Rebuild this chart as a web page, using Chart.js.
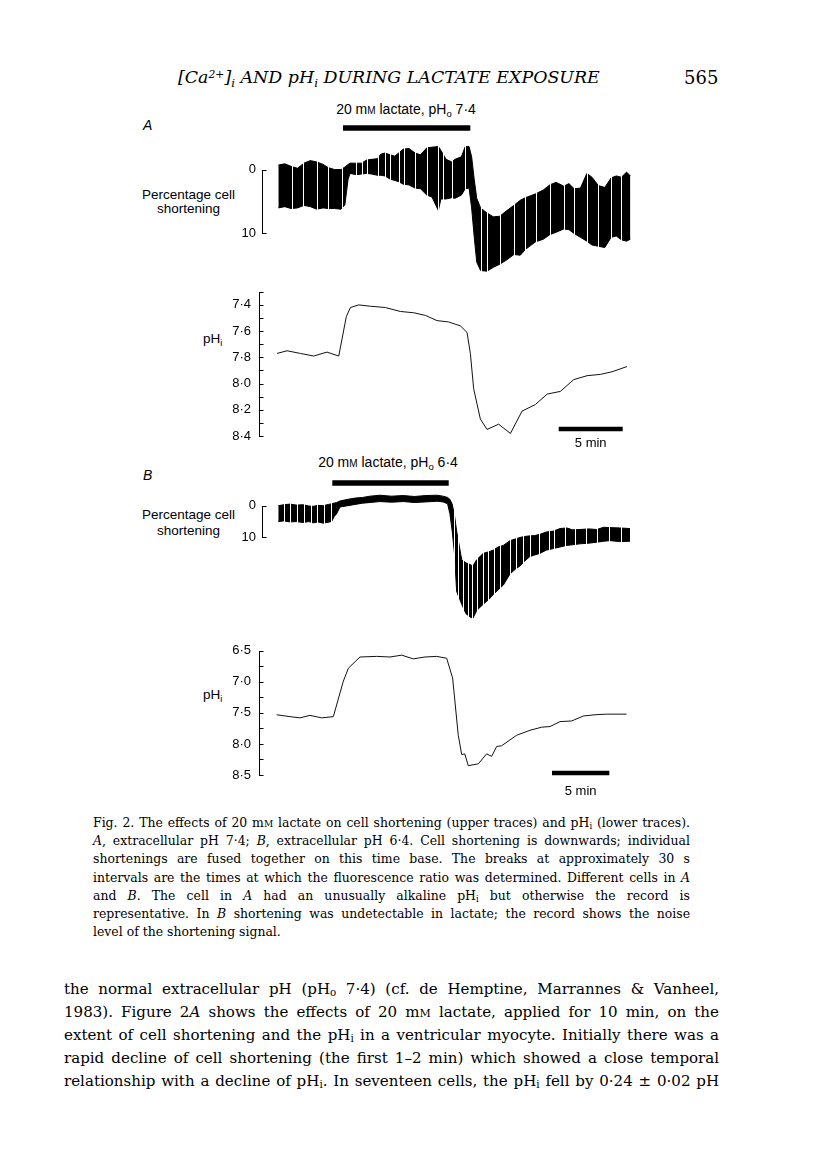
<!DOCTYPE html>
<html>
<head>
<meta charset="utf-8">
<title>Fig. 2 - lactate, cell shortening and pHi</title>
<script src="https://cdn.jsdelivr.net/npm/chart.js@4.4.1/dist/chart.umd.min.js"></script>
<style>
  html, body { margin: 0; padding: 0; background: #fff; }
  #page { position: relative; width: 816px; height: 1169px; overflow: hidden; background: #fff; color: #000; }
  #page canvas { position: absolute; }
  .t { position: absolute; white-space: nowrap; line-height: 1; }
  .sans { font-family: "Liberation Sans", Arial, sans-serif; }
  .serif { font-family: "DejaVu Serif", "Liberation Serif", serif; }
  .sub { font-size: 0.68em; position: relative; top: 0.28em; }
  .sup { font-size: 0.62em; position: relative; top: -0.45em; }
  .sc { font-variant: small-caps; }
</style>
</head>
<body>
<div id="page">
  <div class="t serif" id="head" style="left:178px;top:68px;font-style:italic;font-size:20px">[Ca<span class="sup">2+</span>]<span class="sub">i</span> AND pH<span class="sub">i</span> DURING LACTATE EXPOSURE</div>
  <div class="t serif" style="left:684px;top:69px;font-size:18px">565</div>

  <div class="t sans" style="left:143px;top:118px;font-size:14px;font-style:italic">A</div>
  <div class="t sans" style="left:326px;width:160px;text-align:center;top:102px;font-size:14px">20 m<span class="sc">m</span> lactate, pH<span class="sub">o</span> 7·4</div>
  <div class="t sans" style="left:128px;width:121px;text-align:center;top:188px;font-size:13.5px;line-height:14px">Percentage cell<br>shortening</div>
  <div class="t sans" style="left:203px;top:332px;font-size:13.5px">pH<span class="sub">i</span></div>

  <div class="t sans" style="left:143px;top:468px;font-size:14px;font-style:italic">B</div>
  <div class="t sans" style="left:308px;width:160px;text-align:center;top:455px;font-size:14px">20 m<span class="sc">m</span> lactate, pH<span class="sub">o</span> 6·4</div>
  <div class="t sans" style="left:128px;width:121px;text-align:center;top:507px;font-size:13.5px;line-height:16px">Percentage cell<br>shortening</div>
  <div class="t sans" style="left:203px;top:688px;font-size:13.5px">pH<span class="sub">i</span></div>

  <canvas id="shortA" width="422" height="189" style="left:219px;top:100px"></canvas>
  <canvas id="phA" width="422" height="186" style="left:219px;top:276px"></canvas>
  <canvas id="shortB" width="422" height="186" style="left:219px;top:448px"></canvas>
  <canvas id="phB" width="422" height="166" style="left:219px;top:635px"></canvas>

  <div class="t serif cap" data-w="597" style="left:93px;top:815px">Fig. 2. The effects of 20 m<span class="sc">m</span> lactate on cell shortening (upper traces) and pH<span class="sub">i</span> (lower traces).</div>
  <div class="t serif cap" data-w="597" style="left:93px;top:833px"><i>A</i>, extracellular pH 7·4; <i>B</i>, extracellular pH 6·4. Cell shortening is downwards; individual</div>
  <div class="t serif cap" data-w="597" style="left:93px;top:851px">shortenings are fused together on this time base. The breaks at approximately 30 s</div>
  <div class="t serif cap" data-w="597" style="left:93px;top:870px">intervals are the times at which the fluorescence ratio was determined. Different cells in <i>A</i></div>
  <div class="t serif cap" data-w="597" style="left:93px;top:888px">and <i>B</i>. The cell in <i>A</i> had an unusually alkaline pH<span class="sub">i</span> but otherwise the record is</div>
  <div class="t serif cap" data-w="597" style="left:93px;top:906px">representative. In <i>B</i> shortening was undetectable in lactate; the record shows the noise</div>
  <div class="t serif cap" style="left:93px;top:924px">level of the shortening signal.</div>

  <div class="t serif body" data-w="655" style="left:64px;top:980px">the normal extracellular pH (pH<span class="sub">o</span> 7·4) (cf. de Hemptine, Marrannes &amp; Vanheel,</div>
  <div class="t serif body" data-w="655" style="left:64px;top:1003px">1983). Figure 2<i>A</i> shows the effects of 20 m<span class="sc">m</span> lactate, applied for 10 min, on the</div>
  <div class="t serif body" data-w="655" style="left:64px;top:1026px">extent of cell shortening and the pH<span class="sub">i</span> in a ventricular myocyte. Initially there was a</div>
  <div class="t serif body" data-w="655" style="left:64px;top:1049px">rapid decline of cell shortening (the first 1–2 min) which showed a close temporal</div>
  <div class="t serif body" data-w="655" style="left:64px;top:1072px">relationship with a decline of pH<span class="sub">i</span>. In seventeen cells, the pH<span class="sub">i</span> fell by 0·24 ± 0·02 pH</div>
</div>

<script>
// ---------- panel A (pHo 7.4), time in min ----------
const timeShortA = [0.1, 0.6, 1.1, 1.6, 2.1, 2.6, 3.1, 3.6, 4.0, 4.5, 5.0, 5.3, 5.55, 5.7, 6.2, 6.6, 7.0, 7.4, 7.84, 8.1,
  8.44, 8.83, 9.2, 9.5, 9.87, 10.3, 10.78, 11.2, 11.7, 12.1, 12.6, 12.8, 13.2, 13.65, 13.9, 14.4, 14.7, 15.0, 15.2, 15.4,
  15.6, 15.9, 16.4, 16.9, 17.4, 17.9, 18.5, 19.0, 19.4, 19.8, 20.2, 20.8, 21.3, 21.8, 22.4, 22.8, 23.2, 23.7, 24.2, 24.6,
  25.1, 25.6, 26.1, 26.5, 26.9, 27.3, 27.6];
// upper / lower edge of the fused shortening record (% cell shortening, downwards)
const shortTopA = [-0.7, -0.9, -0.5, -0.2, -1.0, -1.4, -1.2, -0.8, -0.3, 0.0, 0.0, -0.4, -0.8, -1.0, -1.0, -1.0, -1.5, -1.6, -1.7, -2.4,
  -2.6, -2.3, -2.1, -2.6, -3.2, -3.3, -2.6, -2.3, -3.4, -3.5, -3.6, -3.0, -1.6, -1.2, -1.6, -2.0, -3.6, -3.6, -2.0, 1.5,
  4.5, 6.0, 6.8, 7.4, 7.3, 6.5, 5.6, 4.8, 4.4, 4.1, 3.8, 3.2, 2.4, 2.0, 2.6, 2.2, 3.0, 2.9, 0.6, 1.2,
  2.5, 2.8, 1.3, 1.0, 1.2, 0.4, 1.0];
const shortBottomA = [6.0, 5.8, 6.1, 6.0, 5.6, 5.8, 6.2, 6.0, 6.1, 6.1, 6.2, 5.5, 1.5, 0.6, 0.8, 0.7, 0.6, 0.7, 0.9, 0.9,
  1.0, 1.5, 1.7, 1.9, 2.3, 2.4, 2.9, 3.0, 4.0, 4.3, 6.4, 4.6, 4.6, 4.4, 4.5, 4.0, 3.0, 2.9, 6.0, 10.5,
  14.5, 15.8, 15.9, 15.3, 14.8, 14.2, 13.3, 13.4, 12.5, 11.9, 11.3, 10.9, 10.2, 9.8, 9.3, 9.4, 10.0, 10.6, 11.2, 11.8,
  12.0, 12.2, 10.6, 10.4, 11.0, 11.2, 10.9];
// breaks in the record = times the fluorescence ratio was sampled
const breaksA = [1.15, 2.05, 3.1, 4.0, 5.05, 6.15, 6.6, 7.0, 7.85, 8.45, 8.85, 9.5, 9.9, 10.8, 11.7, 12.6, 13.0, 13.65,
  14.7, 15.95, 16.4, 17.4, 18.5, 19.4, 20.2, 21.3, 22.4, 23.2, 24.2, 25.1, 26.1, 26.9];
const timePhA = [0, 0.78, 1.82, 2.86, 3.9, 4.82, 5.41, 5.73, 6.38, 7.29, 8.46, 9.63, 10.68, 11.59, 12.5, 13.4, 14.32,
  14.84, 15.1, 15.36, 15.88, 16.4, 17.31, 18.23, 19.14, 20.18, 21.1, 22.13, 23.17, 24.22, 25.26, 26.17, 27.34];
const phA = [7.77, 7.75, 7.77, 7.79, 7.76, 7.79, 7.49, 7.42, 7.40, 7.41, 7.42, 7.45, 7.46, 7.48, 7.52, 7.53, 7.56,
  7.61, 7.77, 8.04, 8.27, 8.35, 8.31, 8.38, 8.21, 8.16, 8.08, 8.06, 7.97, 7.94, 7.93, 7.91, 7.87];
const lactateA = [5.15, 15.1];
const scaleBarA = [22.0, 27.0];

// ---------- panel B (pHo 6.4) ----------
const timeShortB = [0.14, 0.6, 1.16, 1.7, 2.32, 2.8, 3.19, 3.6, 4.06, 4.5, 4.79, 5.0, 5.23, 5.52, 6.2, 6.83, 7.5, 8.13, 9.0, 10.0,
  11.04, 12.0, 13.0, 14.0, 14.5, 14.9, 15.1, 15.3, 15.5, 15.69, 16.13, 16.5, 16.85, 17.1, 17.44, 18.01, 18.5, 18.88, 19.3, 19.76,
  20.34, 20.8, 21.21, 21.6, 22.08, 22.5, 22.96, 23.5, 24.12, 24.7, 25.28, 25.8, 26.44, 27.2, 27.9, 28.5, 29.06, 29.9, 30.8];
const shortTopB = [0.0, -0.3, -0.5, -0.2, -0.3, 0.1, 0.2, -0.1, 0.0, -0.4, -0.6, -0.8, -1.0, -1.5, -2.0, -2.4, -2.6, -3.0, -3.3, -3.0,
  -3.2, -2.9, -3.2, -3.3, -3.0, -2.6, -2.0, -0.5, 3.0, 8.0, 17.0, 18.0, 18.5, 19.0, 17.0, 15.0, 14.5, 14.0, 13.0, 12.5,
  11.0, 10.5, 10.0, 9.7, 9.5, 9.4, 9.0, 8.3, 8.0, 7.2, 7.0, 7.6, 7.5, 7.3, 7.5, 6.8, 6.9, 7.0, 7.2];
const shortBottomB = [5.0, 4.8, 5.1, 5.0, 5.3, 5.0, 5.4, 5.1, 5.5, 5.2, 5.0, 3.5, 2.5, 0.4, 0.0, -0.4, -0.8, -1.0, -1.3, -1.1,
  -1.3, -1.0, -1.2, -1.4, -1.2, -0.6, 2.5, 8.0, 15.0, 27.0, 31.0, 34.0, 35.0, 35.5, 33.0, 31.0, 29.5, 28.0, 26.5, 25.0,
  21.5, 20.0, 19.0, 17.5, 16.0, 15.5, 15.0, 14.0, 13.5, 13.0, 12.5, 12.3, 12.0, 11.8, 11.5, 11.2, 11.0, 11.3, 11.2];
// in lactate the record is only a thin noise line, so no breaks show there
const breaksB = [0.6, 1.2, 1.75, 2.35, 2.95, 3.55, 4.15, 4.75, 15.45, 15.85, 16.25, 16.65, 17.05, 17.5, 17.95, 18.45,
  18.95, 19.5, 20.3, 20.9, 21.5, 22.1, 22.9, 23.7, 24.2, 25.1, 26.0, 27.0, 27.9, 29.0, 30.0];
const timePhB = [0, 1.16, 2.03, 2.9, 3.92, 4.94, 5.81, 6.25, 7.26, 8.72, 9.88, 10.9, 11.9, 12.93, 13.95, 14.82, 15.34, 15.83,
  16.13, 16.4, 16.7, 17.58, 18.3, 18.74, 19.18, 19.6, 20.92, 22.08, 23.1, 23.83, 24.7, 25.72, 26.73, 27.75, 28.77, 30.5];
const phB = [7.53, 7.56, 7.58, 7.54, 7.58, 7.56, 6.99, 6.78, 6.60, 6.59, 6.60, 6.57, 6.63, 6.60, 6.59, 6.62, 6.94, 7.86,
  8.17, 8.16, 8.35, 8.32, 8.16, 8.20, 8.04, 8.03, 7.86, 7.78, 7.73, 7.72, 7.64, 7.63, 7.55, 7.53, 7.52, 7.52];
const lactateB = [4.85, 15.0];
const scaleBarB = [24.0, 29.0];

// ---------- axis ticks ----------
const shortTicks = [0, 10];
const shortLabels = ['0', '10'];
const phTicksA = [7.3, 7.4, 7.5, 7.6, 7.7, 7.8, 7.9, 8.0, 8.1, 8.2, 8.3, 8.4];
const phLabelsA = ['', '7·4', '', '7·6', '', '7·8', '', '8·0', '', '8·2', '', '8·4'];
const phTicksB = [6.5, 6.75, 7.0, 7.25, 7.5, 7.75, 8.0, 8.25, 8.5];
const phLabelsB = ['6·5', '', '7·0', '', '7·5', '', '8·0', '', '8·5'];

const FONT = '"Liberation Sans", Arial, sans-serif';

function pts(xs, ys) {
  return xs.map((x, i) => ({ x: x, y: ys[i] }));
}

// journal style decorations: white record breaks, bracket axis with inward ticks, lactate / time bars
function decor(p) {
  return {
    id: 'decor',
    afterDatasetsDraw(chart) {
      const ctx = chart.ctx, a = chart.chartArea, x = chart.scales.x, y = chart.scales.y;
      ctx.save();
      ctx.strokeStyle = '#fff';
      ctx.lineWidth = 1;
      (p.breaks || []).forEach(function (t) {
        const px = Math.round(x.getPixelForValue(t)) + 0.5;
        ctx.beginPath();
        ctx.moveTo(px, a.top);
        ctx.lineTo(px, a.bottom);
        ctx.stroke();
      });

      ctx.strokeStyle = '#000';
      ctx.fillStyle = '#000';
      const ax = Math.round(a.left + p.axisGap) + 0.5;
      const yTop = Math.round(y.getPixelForValue(p.ticks[0]));
      const yBot = Math.round(y.getPixelForValue(p.ticks[p.ticks.length - 1])) + 1;
      ctx.beginPath();
      ctx.moveTo(ax, yTop);
      ctx.lineTo(ax, yBot);
      p.ticks.forEach(function (v) {
        const py = Math.round(y.getPixelForValue(v)) + 0.5;
        ctx.moveTo(ax, py);
        ctx.lineTo(ax + p.tickLen, py);
      });
      ctx.stroke();

      (p.bars || []).forEach(function (b) {
        const x1 = x.getPixelForValue(b.span[0]), x2 = x.getPixelForValue(b.span[1]);
        const cy = (b.edge === 'top' ? a.top : a.bottom) + b.dy;
        ctx.fillRect(x1, cy - b.h / 2, x2 - x1, b.h);
        if (b.label) {
          ctx.font = '13px ' + FONT;
          ctx.textAlign = 'center';
          ctx.textBaseline = 'middle';
          ctx.fillText(b.label, (x1 + x2) / 2, cy + b.labelDy);
        }
      });
      ctx.restore();
    }
  };
}

function panel(id, o) {
  return new Chart(document.getElementById(id), {
    type: 'line',
    data: { datasets: o.datasets },
    options: {
      responsive: false,
      animation: false,
      events: [],
      devicePixelRatio: 1,
      layout: { padding: { top: o.padTop, bottom: o.padBottom, left: 0, right: 0 } },
      plugins: { legend: { display: false }, tooltip: { enabled: false } },
      scales: {
        x: { type: 'linear', display: false, min: o.xMin, max: o.xMax },
        y: {
          type: 'linear', reverse: true, min: o.yMin, max: o.yMax,
          afterFit: function (s) { s.width = 40; },
          afterBuildTicks: function (s) { s.ticks = o.ticks.map(function (v) { return { value: v }; }); },
          grid: { display: false, drawTicks: false },
          border: { display: false },
          ticks: {
            autoSkip: false, padding: o.labelPad, color: '#000',
            font: { size: 13, family: FONT },
            callback: function (v, i) { return o.labels[i]; }
          }
        }
      }
    },
    plugins: [decor(o)]
  });
}

function band(xs, top, bottom) {
  return [
    { data: pts(xs, top), borderColor: '#000', borderWidth: 1, pointRadius: 0, tension: 0, fill: false },
    { data: pts(xs, bottom), borderColor: '#000', borderWidth: 1, pointRadius: 0, tension: 0, fill: '-1', backgroundColor: '#000' }
  ];
}

function trace(xs, ys) {
  return [{ data: pts(xs, ys), borderColor: '#111', borderWidth: 1, pointRadius: 0, tension: 0, fill: false }];
}

// x ranges put t = 0 about 18 px right of the axis; A: 12.8 px/min, B: 11.47 px/min
const xMinA = -1.41, xMaxA = 28.43;
const xMinB = -1.54, xMaxB = 31.76;

panel('shortA', {
  datasets: band(timeShortA, shortTopA, shortBottomA),
  xMin: xMinA, xMax: xMaxA, yMin: -4, yMax: 17, padTop: 44, padBottom: 4,
  ticks: shortTicks, labels: shortLabels, labelPad: 3, axisGap: 3, tickLen: 4,
  breaks: breaksA,
  bars: [{ span: lactateA, edge: 'top', dy: -16, h: 5.5 }]
});
panel('phA', {
  datasets: trace(timePhA, phA),
  xMin: xMinA, xMax: xMaxA, yMin: 7.3, yMax: 8.4, padTop: 10, padBottom: 26,
  ticks: phTicksA, labels: phLabelsA, labelPad: 8, axisGap: 0, tickLen: 4,
  bars: [{ span: scaleBarA, edge: 'bottom', dy: -7, h: 4.5, label: '5 min', labelDy: 14 }]
});
panel('shortB', {
  datasets: band(timeShortB, shortTopB, shortBottomB),
  xMin: xMinB, xMax: xMaxB, yMin: -4, yMax: 37, padTop: 45, padBottom: 4,
  ticks: shortTicks, labels: shortLabels, labelPad: 3, axisGap: 3, tickLen: 4,
  breaks: breaksB,
  bars: [{ span: lactateB, edge: 'top', dy: -10, h: 5.5 }]
});
panel('phB', {
  datasets: trace(timePhB, phB),
  xMin: xMinB, xMax: xMaxB, yMin: 6.5, yMax: 8.5, padTop: 10, padBottom: 26,
  ticks: phTicksB, labels: phLabelsB, labelPad: 8, axisGap: 0, tickLen: 4,
  bars: [{ span: scaleBarB, edge: 'bottom', dy: -2, h: 4.5, label: '5 min', labelDy: 18 }]
});

// running head sized to its width on the page
const head = document.getElementById('head');
const hs = 20 * 422 / head.getBoundingClientRect().width;
head.style.fontSize = hs.toFixed(2) + 'px';
head.style.top = (78 - hs / 2).toFixed(1) + 'px';

// one font size per text block so its longest line just fits, then justify by word spacing
function setBlock(cls, base, centerShift) {
  const lines = Array.from(document.querySelectorAll('.' + cls));
  lines.forEach(function (el) { el.style.fontSize = base + 'px'; });
  let k = 10;
  lines.forEach(function (el) {
    if (el.dataset.w) k = Math.min(k, (+el.dataset.w * 0.975) / el.getBoundingClientRect().width);
  });
  const size = base * k;
  lines.forEach(function (el) {
    el.style.fontSize = size.toFixed(2) + 'px';
    el.style.top = (parseFloat(el.style.top) + centerShift - size / 2 + 8).toFixed(1) + 'px';
    if (!el.dataset.w) return;
    const spaces = (el.textContent.match(/ /g) || []).length;
    const natural = el.getBoundingClientRect().width;
    if (spaces) el.style.wordSpacing = ((+el.dataset.w - natural) / spaces).toFixed(2) + 'px';
  });
}
setBlock('cap', 14, 0);
setBlock('body', 17, 1);
</script>
</body>
</html>
